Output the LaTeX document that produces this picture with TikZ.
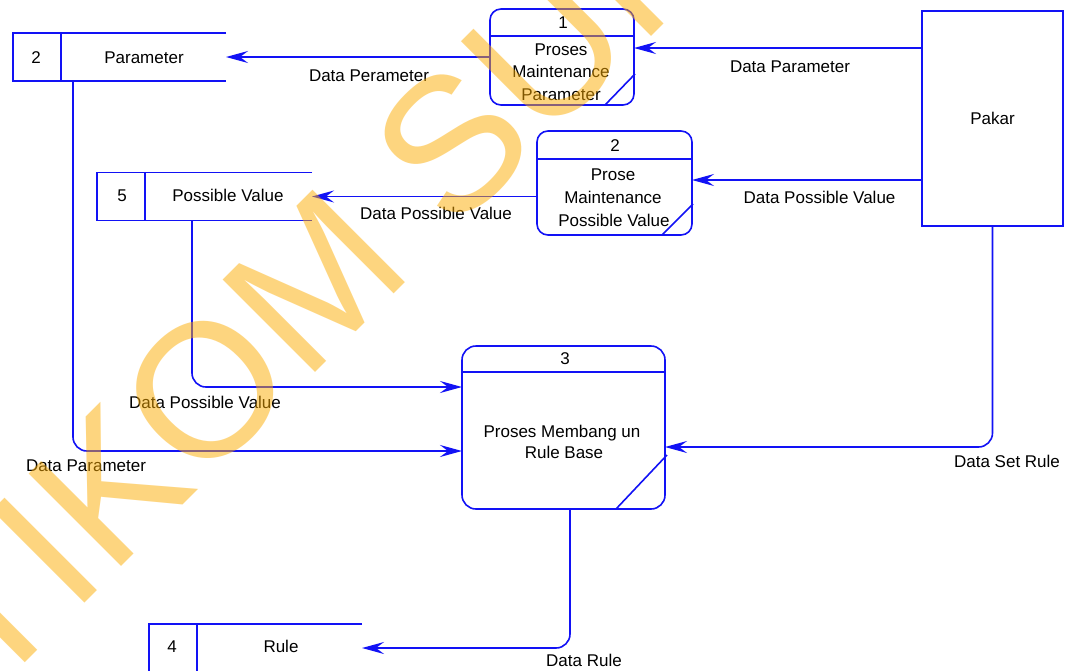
\documentclass[tikz,border=0pt]{standalone}
\usepackage{fontspec}
\setmainfont{Liberation Sans}
\usetikzlibrary{arrows.meta}
\definecolor{dfdblue}{RGB}{18,18,245}
\definecolor{wmorange}{RGB}{253,172,0}
\begin{document}
\begin{tikzpicture}[x=1pt,y=-1pt,
  dfdline/.style={draw=dfdblue, line width=1.6pt},
  flow/.style={dfdline, -{Stealth[length=22pt,width=12pt,inset=8pt]}, rounded corners=14pt},
  proc/.style={dfdline, rounded corners=11pt, inner sep=0pt, outer sep=0pt},
  store/.style={inner sep=0pt, outer sep=0pt, minimum height=48pt},
  txt/.style={font=\fontsize{17}{20}\selectfont, inner sep=0pt, anchor=base},
  wm/.style={font=\fontsize{190}{190}\selectfont, text=wmorange, text opacity=0.5,
             inner sep=0pt, anchor=base west, rotate=45}
]
\useasboundingbox (0,0) rectangle (1067,670);
\clip (0,0) rectangle (1067,670);
\fill[white] (0,0) rectangle (1067,670);

% ---- processes ----
\node[proc, minimum width=144pt, minimum height=96pt] (p1) at (562,57) {};
\draw[dfdline] ([yshift=-27pt]p1.north west) -- ([yshift=-27pt]p1.north east);
\draw[dfdline] ([xshift=-29pt]p1.south east) -- ([xshift=1pt,yshift=31pt]p1.south east);
\node[txt] (p1n) at (563,28) {1};
\node[txt] (p1a) at (561,55) {Proses};
\node[txt] (p1b) at (561,77) {Maintenance};
\node[txt] (p1c) at (561,100) {Parameter};

\node[proc, minimum width=155pt, minimum height=104pt] (p2) at (614.5,183) {};
\draw[dfdline] ([yshift=-28pt]p2.north west) -- ([yshift=-28pt]p2.north east);
\draw[dfdline] ([xshift=-30pt]p2.south east) -- ([xshift=1pt,yshift=31pt]p2.south east);
\node[txt] (p2n) at (615,151) {2};
\node[txt] (p2a) at (613,180) {Prose};
\node[txt] (p2b) at (613,203) {Maintenance};
\node[txt] (p2c) at (614,226) {Possible Value};

\node[proc, rounded corners=14pt, minimum width=203pt, minimum height=163pt] (p3) at (563.5,427.5) {};
\draw[dfdline] ([yshift=-26pt]p3.north west) -- ([yshift=-26pt]p3.north east);
\draw[dfdline] ([xshift=-49pt]p3.south east) -- ([xshift=2pt,yshift=54pt]p3.south east);
\node[txt] (p3n) at (565,364) {3};
\node[txt] (p3a) at (562,437) {Proses Membang un};
\node[txt] (p3b) at (564,458) {Rule Base};

% ---- external entity ----
\node[dfdline, inner sep=0pt, outer sep=0pt, minimum width=141pt, minimum height=215pt,
      font=\fontsize{17}{20}\selectfont] (pakar) at (992.5,118.5) {Pakar};

% ---- data stores ----
\node[store, minimum width=213pt] (s2) at (119.5,57) {};
\draw[dfdline] (s2.north east) -- (s2.north west) -- (s2.south west) -- (s2.south east);
\draw[dfdline] ([xshift=48pt]s2.north west) -- ([xshift=48pt]s2.south west);
\node[txt] (s2n) at (36,63) {2};
\node[txt] (s2t) at (144,63) {Parameter};

\node[store, minimum width=215pt] (s5) at (204.5,196.5) {};
\draw[dfdline] (s5.north east) -- (s5.north west) -- (s5.south west) -- (s5.south east);
\draw[dfdline] ([xshift=48pt]s5.north west) -- ([xshift=48pt]s5.south west);
\node[txt] (s5n) at (122,201) {5};
\node[txt] (s5t) at (228,201) {Possible Value};

\node[store, minimum width=213pt] (s4) at (255.5,648) {};
\draw[dfdline] (s4.north east) -- (s4.north west) -- (s4.south west) -- (s4.south east);
\draw[dfdline] ([xshift=48pt]s4.north west) -- ([xshift=48pt]s4.south west);
\node[txt] (s4n) at (172,652) {4};
\node[txt] (s4t) at (281,652) {Rule};

% ---- data flows ----
\coordinate (a1) at ([yshift=9pt]p1.east);
\draw[flow] (pakar.west |- a1) -- (a1);
\draw[flow] (p1.west |- s2.east) -- (s2.east);
\coordinate (a2) at ([yshift=3pt]p2.east);
\draw[flow] (pakar.west |- a2) -- (a2);
\draw[flow] (p2.west |- s5.east) -- (s5.east);

\coordinate (s2out) at ([xshift=60pt]s2.south west);
\coordinate (a3) at ([yshift=-23.5pt]p3.west);
\draw[flow] (s2out) |- (a3);
\coordinate (s5out) at ([xshift=95pt]s5.south west);
\coordinate (a4) at ([yshift=40.5pt]p3.west);
\draw[flow] (s5out) |- (a4);
\coordinate (a5) at ([yshift=-19.5pt]p3.east);
\draw[flow] (pakar.south) |- (a5);
\coordinate (p3out) at ([xshift=6.5pt]p3.south);
\draw[flow] (p3out) |- (s4.east);

% ---- flow labels ----
\node[txt] (l1) at (369,81) {Data Perameter};
\node[txt] (l2) at (790,72) {Data Parameter};
\node[txt] (l3) at (819.5,203) {Data Possible Value};
\node[txt] (l4) at (436,219) {Data Possible Value};
\node[txt] (l5) at (205,408) {Data Possible Value};
\node[txt] (l6) at (86,471) {Data Parameter};
\node[txt] (l7) at (1007,467) {Data Set Rule};
\node[txt] (l8) at (584,666) {Data Rule};

% ---- watermark ----
\node[wm] (wmark) at (-99,787) {STIKOM SURABAYA};
\end{tikzpicture}
\end{document}
